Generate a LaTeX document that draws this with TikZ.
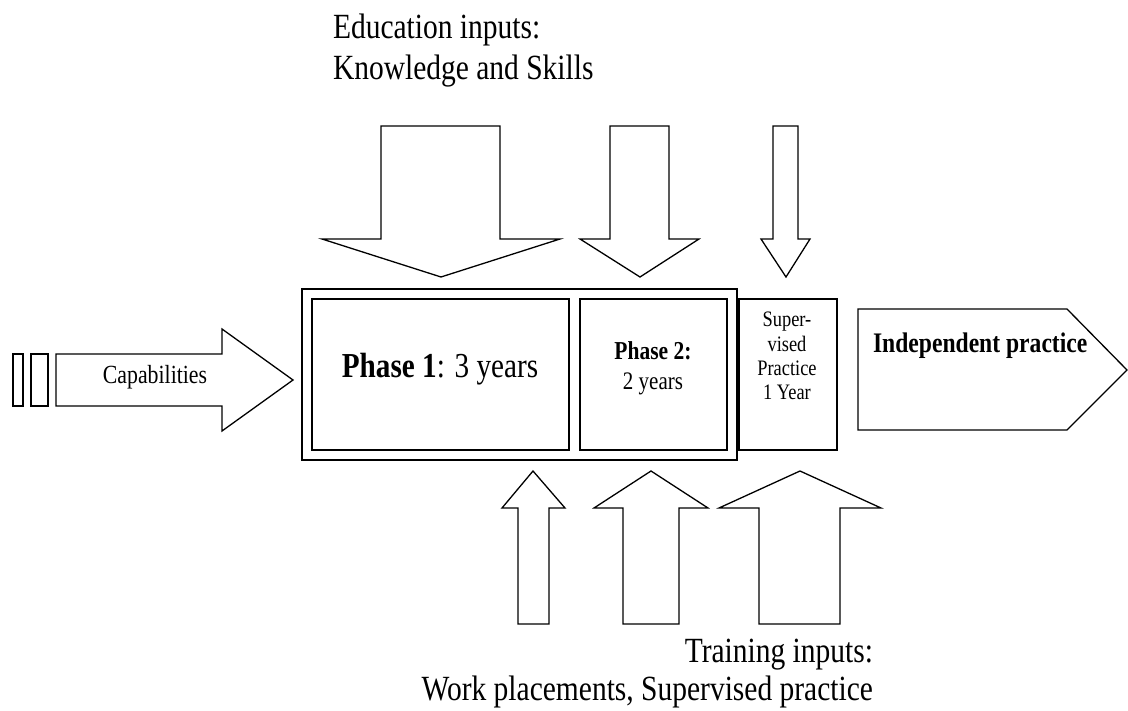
\documentclass[tikz,border=0pt]{standalone}
\usepackage{fontspec}
\setmainfont{Liberation Serif}
\begin{document}
\begin{tikzpicture}[x=1pt,y=1pt,
  shp/.style={draw=black, line width=1.3pt, line join=miter, fill=white},
  txt/.style={inner sep=0pt, outer sep=0pt, yscale=1.2},
  bigf/.style={font=\fontsize{29.5}{34}\selectfont},
]
\useasboundingbox[fill=white] (0,0) rectangle (1128,-711);

% tail blocks and capabilities arrow
\draw[shp] (13,-354) rectangle (23,-406);
\draw[shp] (31,-354) rectangle (48,-406);
\draw[shp] (56,-354) -- (222,-354) -- (222,-329) -- (293,-380) -- (222,-431) -- (222,-406) -- (56,-406) -- cycle;
\node[txt, anchor=base, font=\fontsize{21.8}{25}\selectfont] (cap) at (155,-384) {Capabilities};

% boxes
\draw[shp] (302,-289) rectangle (737,-460);
\draw[shp] (312,-299) rectangle (569,-450);
\draw[shp] (580,-299) rectangle (727,-450);
\draw[shp] (739,-299) rectangle (837,-450);
\draw[shp] (858,-309) -- (1067,-309) -- (1127,-370) -- (1067,-430) -- (858,-430) -- cycle;

\node[txt, anchor=base, font=\fontsize{29.2}{34}\selectfont] (ph1) at (440,-378) {\textbf{Phase 1}: 3 years};
\node[txt, anchor=base, font=\fontsize{21.5}{25}\selectfont] (ph2a) at (653,-360) {\textbf{Phase 2:}};
\node[txt, anchor=base, font=\fontsize{21}{25}\selectfont] (ph2b) at (653,-390) {2 years};
\node[txt, anchor=base, font=\fontsize{18.4}{20.4}\selectfont] (sv1) at (787,-327) {Super-};
\node[txt, anchor=base, font=\fontsize{18.4}{20.4}\selectfont] (sv2) at (787,-352) {vised};
\node[txt, anchor=base, font=\fontsize{18.4}{20.4}\selectfont] (sv3) at (787,-376) {Practice};
\node[txt, anchor=base, font=\fontsize{18.4}{20.4}\selectfont] (sv4) at (787,-400) {1 Year};
\node[txt, anchor=base west, font=\bfseries\fontsize{23.6}{28}\selectfont] (ind) at (873,-353) {Independent practice};

% down arrows (education)
\draw[shp] (381,-126) -- (500,-126) -- (500,-239) -- (560,-239) -- (441,-277) -- (322,-239) -- (381,-239) -- cycle;
\draw[shp] (610,-126) -- (669,-126) -- (669,-239) -- (699,-239) -- (640,-277) -- (580,-239) -- (610,-239) -- cycle;
\draw[shp] (773,-126) -- (798,-126) -- (798,-239) -- (810,-239) -- (786,-277) -- (761,-239) -- (773,-239) -- cycle;

% up arrows (training)
\draw[shp] (518,-624) -- (549,-624) -- (549,-508) -- (565,-508) -- (533,-471) -- (502,-508) -- (518,-508) -- cycle;
\draw[shp] (623,-624) -- (679,-624) -- (679,-508) -- (708,-508) -- (651,-471) -- (594,-508) -- (623,-508) -- cycle;
\draw[shp] (759,-624) -- (840,-624) -- (840,-508) -- (881,-508) -- (800,-471) -- (719,-508) -- (759,-508) -- cycle;

% labels
\node[txt, anchor=base west, bigf] (edu1) at (333,-39) {Education inputs:};
\node[txt, anchor=base west, bigf] (edu2) at (333,-80) {Knowledge and Skills};
\node[txt, anchor=base east, bigf] (tr1) at (873,-662) {Training inputs:};
\node[txt, anchor=base east, bigf] (tr2) at (873,-700) {Work placements, Supervised practice};
\end{tikzpicture}
\end{document}
